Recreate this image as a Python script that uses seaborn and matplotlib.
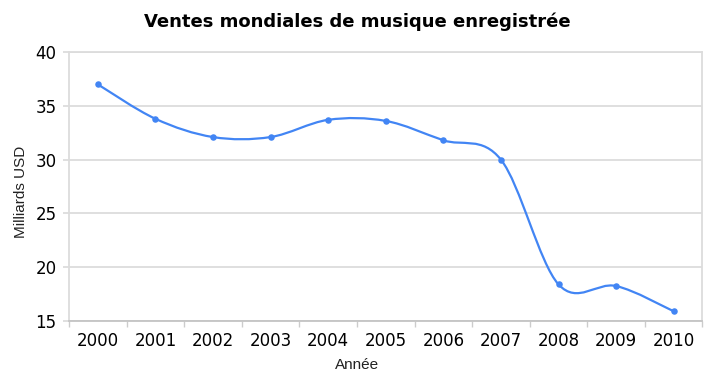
import numpy as np
import matplotlib.pyplot as plt
import seaborn as sns
from matplotlib.path import Path
from matplotlib.patches import PathPatch

# values
years = ["2000", "2001", "2002", "2003", "2004", "2005",
         "2006", "2007", "2008", "2009", "2010"]
sales = [37.0, 33.8, 32.1, 32.1, 33.7, 33.6, 31.8, 30.0, 18.4, 18.25, 15.9]
yTicks = [15, 20, 25, 30, 35, 40]

lineColor = "#4285f4"
gridColor = "#dcdcdc"


def smoothPath(xs, ys):
    # Catmull-Rom style cubic bezier through the data points
    pts = np.column_stack([xs, ys]).astype(float)
    n = len(pts)
    verts = [pts[0]]
    codes = [Path.MOVETO]
    for i in range(n - 1):
        prev = pts[i - 1] if i > 0 else pts[i]
        nxt = pts[i + 2] if i + 2 < n else pts[i + 1]
        c1 = pts[i] + (pts[i + 1] - prev) / 6
        c2 = pts[i + 1] - (nxt - pts[i]) / 6
        verts += [c1, c2, pts[i + 1]]
        codes += [Path.CURVE4] * 3
    return Path(verts, codes)


sns.set_theme(style="whitegrid")
plt.rcParams["font.family"] = ["DejaVu Sans"]

fig = plt.figure(figsize=(7.15, 3.83), dpi=100)
ax = fig.add_axes([0.0965, 0.162, 0.886, 0.702])

xPos = np.arange(len(years))
ax.add_patch(PathPatch(smoothPath(xPos, sales), facecolor="none",
                       edgecolor=lineColor, lw=1.6, zorder=3))
sns.scatterplot(x=xPos, y=sales, ax=ax, color=lineColor, s=22,
                edgecolor=lineColor, linewidth=0, zorder=4)

ax.set_xlim(-0.5, len(years) - 0.5)
ax.set_ylim(15, 40)
ax.set_xticks(xPos)
ax.set_xticklabels(years, fontsize=12, color="black")
ax.set_xticks(np.arange(-0.5, len(years)), minor=True)
ax.set_yticks(yTicks)
ax.set_yticklabels([str(v) for v in yTicks], fontsize=12, color="black")

ax.grid(axis="x", visible=False)
ax.grid(axis="y", color=gridColor, lw=1.3)
ax.tick_params(axis="x", which="major", length=0, pad=8)
ax.tick_params(axis="x", which="minor", length=4, color="#cccccc", width=1, bottom=True)
ax.tick_params(axis="y", length=4, color=gridColor, width=1.3, left=True, pad=5)

for side in ["left", "right", "top"]:
    ax.spines[side].set_color(gridColor)
    ax.spines[side].set_linewidth(1.3)
ax.spines["bottom"].set_color("#c4c4c4")
ax.spines["bottom"].set_linewidth(1.3)

labelFont = dict(fontsize=11, color="#222222", family="Liberation Sans")
ax.set_xlabel("Année", **labelFont)
ax.set_ylabel("Milliards USD", **labelFont)
ax.xaxis.set_label_coords(0.5, 0.066, transform=fig.transFigure)
ax.yaxis.set_label_coords(0.039, 0.5, transform=fig.transFigure)

fig.suptitle("Ventes mondiales de musique enregistrée", fontsize=13,
             fontweight="bold", color="black", x=0.5, y=0.967)

fig.savefig("out.png", dpi=100)
